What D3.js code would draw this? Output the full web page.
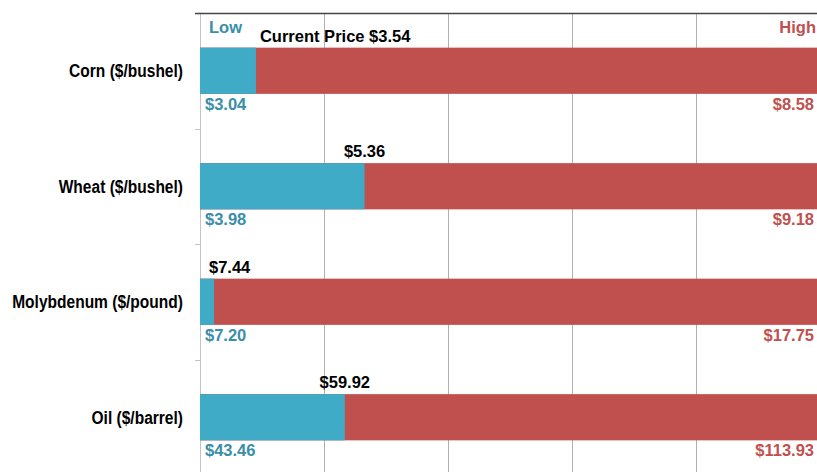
<!DOCTYPE html>
<html>
<head>
<meta charset="utf-8">
<script src="https://cdn.jsdelivr.net/npm/d3@7"></script>
<style>
  body { margin: 0; background: #fff; }
  svg { display: block; }
  text { font-family: "Liberation Sans", Arial, Helvetica, sans-serif; font-weight: bold; }
</style>
</head>
<body>
<div id="chart"></div>
<script>
// Price ranges: low / current / high
const categories = ["Corn ($/bushel)", "Wheat ($/bushel)", "Molybdenum ($/pound)", "Oil ($/barrel)"];
const lows = [3.04, 3.98, 7.20, 43.46];
const currents = [3.54, 5.36, 7.44, 59.92];
const highs = [8.58, 9.18, 17.75, 113.93];
const gridTicks = [0, 0.2, 0.4, 0.6, 0.8, 1];

const width = 817;
const height = 472;
const blue = "#40abc7";
const red = "#c0504e";
const blueText = "#3a8ea8";
const redText = "#c0504e";

const data = categories.map((c, i) => ({
  name: c,
  low: lows[i],
  current: currents[i],
  high: highs[i],
  frac: (currents[i] - lows[i]) / (highs[i] - lows[i])
}));

const svg = d3.select("#chart").append("svg")
  .attr("width", width)
  .attr("height", height);

const x = d3.scaleLinear().domain([0, 1]).range([200, 820]);
const y = d3.scaleBand().domain(categories).range([13, 475])
  .paddingInner(0.6).paddingOuter(0.3);

// gridlines
svg.append("g")
  .selectAll("line")
  .data(gridTicks.slice(1))
  .join("line")
  .attr("x1", d => x(d) + 0.5)
  .attr("x2", d => x(d) + 0.5)
  .attr("y1", 13)
  .attr("y2", height)
  .attr("stroke", "#b0b0b0")
  .attr("stroke-width", 1);

// left axis with ticks on band boundaries
svg.append("line")
  .attr("x1", x(0) + 0.5).attr("x2", x(0) + 0.5)
  .attr("y1", 13).attr("y2", height)
  .attr("stroke", "#c4c4c4");

const boundaries = categories.slice(1).map(c => y(c) - y.step() * y.paddingInner() / 2);
svg.append("g")
  .selectAll("line")
  .data(boundaries)
  .join("line")
  .attr("x1", x(0) - 5).attr("x2", x(0))
  .attr("y1", d => Math.round(d) + 0.5)
  .attr("y2", d => Math.round(d) + 0.5)
  .attr("stroke", "#c4c4c4");

// top border
svg.append("line")
  .attr("x1", x(0) - 5).attr("x2", width)
  .attr("y1", 13.5).attr("y2", 13.5)
  .attr("stroke", "#444")
  .attr("stroke-width", 1.5);

const rows = svg.append("g")
  .selectAll("g")
  .data(data)
  .join("g");

// red full range
rows.append("rect")
  .attr("x", x(0))
  .attr("y", d => y(d.name))
  .attr("width", x(1) - x(0))
  .attr("height", y.bandwidth())
  .attr("fill", red);

// blue: low to current
rows.append("rect")
  .attr("x", x(0))
  .attr("y", d => y(d.name))
  .attr("width", d => x(d.frac) - x(0))
  .attr("height", y.bandwidth())
  .attr("fill", blue);

// category labels (condensed look)
rows.append("text")
  .attr("transform", d => `translate(183,${y(d.name) + y.bandwidth() / 2}) scale(0.84,1)`)
  .attr("dy", "0.35em")
  .attr("text-anchor", "end")
  .attr("font-size", 18.5)
  .attr("fill", "#000")
  .text(d => d.name);

// low value
rows.append("text")
  .attr("x", x(0) + 5)
  .attr("y", d => y(d.name) + y.bandwidth() + 16)
  .attr("font-size", 16.5)
  .attr("fill", blueText)
  .text(d => "$" + d3.format(".2f")(d.low));

// high value
rows.append("text")
  .attr("x", 814)
  .attr("y", d => y(d.name) + y.bandwidth() + 16)
  .attr("text-anchor", "end")
  .attr("font-size", 16.5)
  .attr("fill", redText)
  .text(d => "$" + d3.format(".2f")(d.high));

// current price labels
rows.append("text")
  .attr("y", d => y(d.name) - 6)
  .attr("font-size", 16.5)
  .attr("fill", "#000")
  .attr("text-anchor", (d, i) => i === 0 ? "start" : "middle")
  .text((d, i) => (i === 0 ? "Current Price " : "") + "$" + d3.format(".2f")(d.current))
  .attr("x", function (d, i) {
    const xe = x(d.frac);
    if (i === 0) return xe + 4;
    const w = this.getComputedTextLength();
    return Math.max(xe, x(0) + 9 + w / 2);
  });

// Low / High legend
svg.append("text")
  .attr("x", x(0) + 9)
  .attr("y", 33)
  .attr("font-size", 16.5)
  .attr("fill", blueText)
  .text("Low");

svg.append("text")
  .attr("x", 816)
  .attr("y", 33)
  .attr("text-anchor", "end")
  .attr("font-size", 16.5)
  .attr("fill", redText)
  .text("High");
</script>
</body>
</html>
